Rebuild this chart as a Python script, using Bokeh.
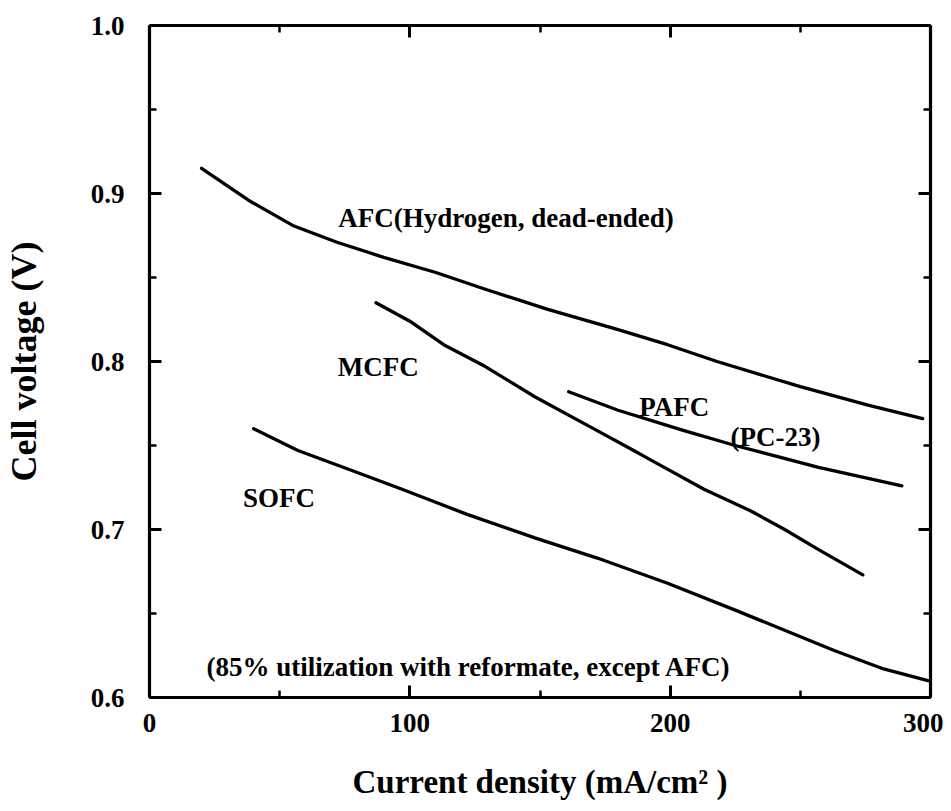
from bokeh.plotting import figure
from bokeh.models import FixedTicker, LinearAxis, Label, Range1d, PrintfTickFormatter
from bokeh.embed import file_html
from bokeh.resources import INLINE

# Data
afc_x = [20, 38, 55, 72, 90, 110, 129, 153, 180, 199, 218, 250, 276, 297]
afc_y = [0.915, 0.896, 0.881, 0.871, 0.862, 0.853, 0.843, 0.831, 0.819, 0.810, 0.800, 0.785, 0.774, 0.766]

mcfc_x = [87, 100, 113, 129, 148, 167, 186, 193, 213, 231, 244, 257, 274]
mcfc_y = [0.835, 0.824, 0.810, 0.797, 0.779, 0.763, 0.747, 0.741, 0.724, 0.711, 0.700, 0.688, 0.673]

pafc_x = [161, 180, 205, 225, 257, 289]
pafc_y = [0.782, 0.771, 0.759, 0.750, 0.737, 0.726]

sofc_x = [40, 57, 78, 97, 122, 148, 172, 199, 225, 263, 282, 299]
sofc_y = [0.760, 0.747, 0.735, 0.724, 0.709, 0.695, 0.683, 0.668, 0.652, 0.628, 0.617, 0.610]

x_major = [0, 100, 200, 300]
x_minor = [50, 150, 250]
y_major = [0.6, 0.7, 0.8, 0.9, 1.0]
y_minor = [0.65, 0.75, 0.85, 0.95]

labels = [
    ("AFC(Hydrogen, dead-ended)", 72.5, 0.8857),
    ("MCFC", 72.3, 0.7966),
    ("PAFC", 188.1, 0.7728),
    ("(PC-23)", 223.2, 0.7550),
    ("SOFC", 35.9, 0.7186),
    ("(85% utilization with reformate, except AFC)", 21.9, 0.6180),
]

FONT = "Liberation Serif"

p = figure(width=943, height=803, output_backend="svg", toolbar_location=None,
           x_range=Range1d(0, 300), y_range=Range1d(0.6, 1.0),
           min_border_left=148, min_border_right=13, min_border_top=25,
           min_border_bottom=106)
p.outline_line_color = None
p.xgrid.grid_line_color = None
p.ygrid.grid_line_color = None
p.background_fill_color = "white"
p.border_fill_color = "white"

def style_axis(ax, ticks, minor, show_labels):
    ax.ticker = FixedTicker(ticks=ticks, minor_ticks=minor)
    ax.axis_line_width = 3.2
    ax.axis_line_color = "black"
    ax.major_tick_line_width = 3
    ax.minor_tick_line_width = 2.5
    ax.major_tick_in = 12
    ax.major_tick_out = 0
    ax.minor_tick_in = 7
    ax.minor_tick_out = 0
    ax.major_label_text_font = FONT
    ax.major_label_text_font_style = "bold"
    ax.major_label_text_color = "black"
    ax.major_label_text_font_size = "27px"
    if not show_labels:
        ax.major_label_overrides = {t: "" for t in ticks}
        ax.major_label_standoff = 0

style_axis(p.xaxis[0], x_major, x_minor, True)
style_axis(p.yaxis[0], y_major, y_minor, True)
p.xaxis[0].formatter = PrintfTickFormatter(format="%d")
p.yaxis[0].formatter = PrintfTickFormatter(format="%.1f")
p.xaxis[0].major_label_standoff = 16
p.yaxis[0].major_label_standoff = 25

p.xaxis[0].axis_label = "Current density (mA/cm\u00b2 )"
p.yaxis[0].axis_label = "Cell voltage (V)"
for ax in (p.xaxis[0], p.yaxis[0]):
    ax.axis_label_text_font = FONT
    ax.axis_label_text_font_style = "bold"
    ax.axis_label_text_color = "black"
p.xaxis[0].axis_label_text_font_size = "33px"
p.yaxis[0].axis_label_text_font_size = "36px"
p.xaxis[0].axis_label_standoff = 29
p.yaxis[0].axis_label_standoff = 44

top = LinearAxis()
style_axis(top, x_major, x_minor, False)
p.add_layout(top, "above")
right = LinearAxis()
style_axis(right, y_major, y_minor, False)
p.add_layout(right, "right")

for xs, ys in ((afc_x, afc_y), (mcfc_x, mcfc_y), (pafc_x, pafc_y), (sofc_x, sofc_y)):
    p.line(xs, ys, line_color="black", line_width=3.3, line_cap="round", line_join="round")

for txt, lx, ly in labels:
    p.add_layout(Label(x=lx, y=ly, text=txt, text_font=FONT, text_font_style="bold",
                       text_font_size="27px", text_color="black",
                       text_baseline="alphabetic", text_align="left"))

open("out.html", "w").write(file_html(p, INLINE))
